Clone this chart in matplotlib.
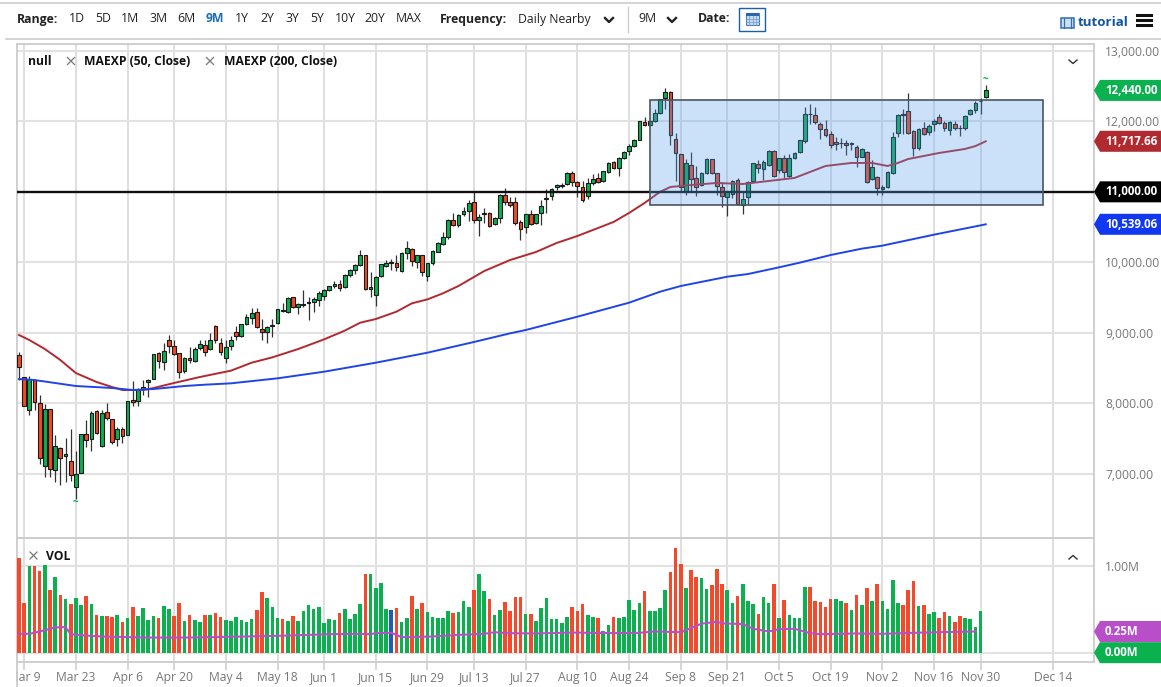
import matplotlib
matplotlib.use('Agg')
import matplotlib.pyplot as plt
from matplotlib.patches import Rectangle, Polygon

plt.rcParams['font.family'] = ['Open Sans', 'DejaVu Sans']

W, H = 1161, 687

opens = [8683, 8375, 7902, 8328, 8006, 7112, 7911, 7045, 7358, 7244,
         7183, 6804, 7012, 7556, 7490, 7892, 7396, 7869, 7779, 7485,
         7632, 7542, 8044, 8025, 8196, 8304, 8342, 8707, 8584, 8896,
         8811, 8707, 8451, 8645, 8593, 8778, 8825, 8768, 9090, 8849,
         8636, 8811, 9010, 8953, 9118, 9204, 9289, 9052, 9015, 9100,
         9142, 9320, 9294, 9502, 9370, 9398, 9422, 9440, 9460, 9521,
         9601, 9663, 9687, 9649, 9824, 9895, 9966, 10098, 9625, 9530,
         9800, 9952, 9994, 9985, 9876, 10127, 10188, 10008, 10098, 9800,
         9990, 10150, 10264, 10354, 10605, 10534, 10685, 10733, 10851, 10605,
         10703, 10700, 10539, 10628, 10960, 10860, 10856, 10567, 10496, 10685,
         10562, 10704, 10917, 10941, 11064, 11088, 11107, 11267, 11144, 11073,
         10936, 11120, 11192, 11154, 11286, 11424, 11334, 11485, 11585, 11646,
         11741, 11996, 11954, 12006, 12115, 12332, 12413, 11750, 11532, 11012,
         11386, 11192, 11092, 11263, 11461, 11263, 11073, 10932, 10969, 11168,
         10813, 10922, 11154, 11395, 11319, 11381, 11575, 11310, 11476, 11225,
         11476, 11566, 11722, 12108, 12091, 11958, 11897, 11821, 11703, 11693,
         11688, 11688, 11641, 11500, 11561, 11187, 11215, 11040, 11073, 11272,
         11831, 12091, 12143, 11868, 11618, 11902, 11854, 11959, 12067, 11982,
         11878, 11963, 11907, 11906, 12100, 12162, 12285, 12342]
highs = [8730, 8375, 8385, 8338, 8110, 7987, 7911, 7542, 7381, 7509,
         7632, 7320, 7556, 7760, 7892, 7902, 7902, 8001, 7779, 7656,
         7656, 8035, 8309, 8210, 8328, 8340, 8702, 8730, 8849, 8967,
         8896, 8707, 8660, 8792, 8792, 8896, 8896, 9000, 9110, 8930,
         8896, 8950, 9090, 9130, 9260, 9345, 9350, 9200, 9100, 9190,
         9332, 9420, 9505, 9510, 9420, 9600, 9510, 9510, 9590, 9620,
         9670, 9730, 9750, 9830, 9910, 9970, 10180, 10110, 9860, 9800,
         9975, 10030, 10040, 10110, 10140, 10300, 10200, 10110, 10110, 9990,
         10170, 10290, 10430, 10615, 10700, 10680, 10790, 10880, 11010, 10680,
         10770, 10720, 10640, 10970, 11060, 10930, 10930, 10600, 10690, 10740,
         10690, 10890, 11040, 11060, 11110, 11120, 11280, 11290, 11160, 11160,
         11190, 11260, 11270, 11300, 11420, 11440, 11490, 11580, 11680, 11750,
         12010, 12060, 12020, 12170, 12320, 12470, 12425, 11840, 11540, 11470,
         11570, 11360, 11280, 11480, 11470, 11270, 11140, 11000, 11170, 11200,
         11000, 11150, 11410, 11450, 11450, 11590, 11590, 11480, 11530, 11540,
         11560, 11740, 12210, 12250, 12200, 11990, 12020, 11860, 11780, 11760,
         11740, 11710, 11660, 11620, 11580, 11450, 11230, 11090, 11290, 11850,
         12110, 12170, 12410, 11880, 11905, 11990, 11960, 12040, 12100, 12010,
         12010, 12010, 11950, 12090, 12170, 12290, 12330, 12510]
lows = [8328, 8375, 7831, 7902, 7135, 6955, 6946, 6884, 6837, 6884,
        6899, 6638, 7012, 7381, 7325, 7561, 7372, 7760, 7419, 7396,
        7438, 7542, 7959, 7959, 8115, 8091, 8338, 8494, 8470, 8707,
        8680, 8352, 8423, 8565, 8588, 8754, 8673, 8750, 8860, 8683,
        8570, 8760, 8900, 8935, 9110, 9125, 9060, 8890, 8860, 8940,
        9130, 9300, 9285, 9355, 9260, 9360, 9180, 9300, 9380, 9470,
        9590, 9630, 9590, 9630, 9790, 9830, 9950, 9600, 9500, 9380,
        9790, 9930, 9890, 9880, 9860, 10050, 9940, 9920, 9810, 9740,
        9960, 10140, 10250, 10330, 10510, 10500, 10660, 10590, 10560, 10380,
        10560, 10500, 10530, 10560, 10820, 10790, 10530, 10310, 10420, 10530,
        10550, 10530, 10700, 10880, 11030, 11060, 11090, 11080, 10930, 10860,
        10900, 11100, 11120, 11140, 11270, 11320, 11230, 11470, 11530, 11630,
        11730, 11940, 11940, 11990, 12100, 12180, 11670, 11160, 11010, 10950,
        11012, 10945, 11080, 11250, 11250, 10950, 10790, 10660, 10910, 10820,
        10680, 10820, 11140, 11270, 11170, 11370, 11215, 11270, 11200, 11215,
        11470, 11550, 11700, 11960, 11970, 11750, 11780, 11620, 11600, 11620,
        11520, 11590, 11350, 11490, 11130, 11170, 10960, 10960, 11060, 11260,
        11780, 11820, 11825, 11510, 11600, 11800, 11810, 11860, 11960, 11860,
        11810, 11880, 11790, 11880, 12090, 12120, 12100, 12330]
closes = [8508, 7964, 8338, 8011, 7225, 7916, 7064, 7396, 7216, 7277,
          6979, 6993, 7556, 7476, 7855, 7570, 7864, 7793, 7443, 7637,
          7528, 8035, 8020, 8191, 8233, 8333, 8702, 8602, 8740, 8816,
          8697, 8437, 8645, 8612, 8773, 8834, 8730, 8896, 8900, 8730,
          8801, 8896, 8960, 9123, 9228, 9284, 9076, 9005, 9085, 9112,
          9332, 9310, 9497, 9360, 9412, 9412, 9440, 9474, 9568, 9601,
          9658, 9696, 9635, 9814, 9895, 9956, 10098, 9616, 9653, 9795,
          9970, 9990, 10008, 9928, 10132, 10202, 10018, 10098, 9866, 9985,
          10160, 10278, 10363, 10605, 10534, 10671, 10733, 10846, 10600, 10647,
          10684, 10515, 10633, 10960, 10856, 10808, 10553, 10468, 10680, 10548,
          10680, 10799, 10898, 11045, 11092, 11098, 11267, 11135, 11078, 10884,
          11130, 11182, 11140, 11291, 11414, 11338, 11480, 11570, 11646, 11731,
          12001, 11954, 12006, 12124, 12313, 12413, 11807, 11556, 11064, 11405,
          11187, 11073, 11272, 11466, 11263, 11083, 10941, 10993, 11159, 10827,
          10898, 11144, 11405, 11343, 11419, 11585, 11230, 11476, 11277, 11485,
          11547, 11731, 12105, 12105, 11987, 11887, 11807, 11660, 11674, 11688,
          11660, 11680, 11500, 11604, 11144, 11348, 11050, 11069, 11277, 11774,
          12086, 12100, 11831, 11618, 11897, 11826, 11940, 12011, 11982, 11902,
          11992, 11907, 11900, 12081, 12162, 12266, 12295, 12440]

ema50_idx = [0, 2, 5, 8, 11, 15, 18, 20, 24, 26, 30, 35, 41, 45, 49, 54, 59, 63, 66, 69,
             73, 76, 79, 82, 85, 87, 90, 95, 100, 104, 108, 111, 115, 118, 121, 124, 126, 130,
             135, 140, 145, 150, 153, 156, 161, 165, 168, 170, 172, 178, 183, 185, 187]
ema50 = [8967, 8896, 8768, 8612, 8427, 8300, 8229, 8186, 8186, 8214, 8286, 8371, 8461, 8574,
         8650, 8768, 8905, 9029, 9142, 9194, 9298, 9417, 9473, 9559, 9663, 9748, 9876, 10032,
         10146, 10274, 10373, 10458, 10572, 10700, 10842, 11000, 11069, 11097, 11126, 11111,
         11154, 11197, 11282, 11367, 11410, 11410, 11367, 11410, 11466, 11552, 11609, 11650,
         11717.66]
ema200_idx = [0, 3, 11, 18, 22, 26, 32, 36, 41, 50, 59, 69, 79, 88, 95, 98, 108, 118, 124, 128,
              137, 141, 147, 151, 157, 163, 167, 177, 186, 187]
ema200 = [8342, 8328, 8243, 8215, 8186, 8200, 8243, 8262, 8281, 8352, 8446, 8574, 8716, 8868,
          8991, 9038, 9227, 9426, 9582, 9663, 9795, 9833, 9928, 9994, 10103, 10193, 10236,
          10392, 10524, 10539.06]

volume = [1.10, .57, 1.00, 1.00, .94, 1.02, .73, .88, .665, .626,
          .56, .634, .556, .658, .568, .44, .42, .424, .41, .436,
          .35, .397, .533, .428, .52, .38, .428, .405, .537, .51,
          .428, .58, .37, .436, .38, .354, .44, .432, .46, .416,
          .377, .366, .41, .38, .358, .393, .498, .70, .634, .533,
          .397, .39, .37, .428, .362, .482, .556, .51, .53, .342,
          .39, .377, .46, .51, .393, .444, .564, .907, .914, .743,
          .81, .50, .498, .518, .354, .40, .658, .51, .572, .475,
          .416, .397, .40, .482, .463, .475, .603, .525, .73, .914,
          .716, .626, .44, .494, .587, .482, .642, .65, .444, .444,
          .366, .52, .63, .39, .393, .346, .416, .533, .482, .56,
          .432, .41, .397, .25, .323, .41, .40, .41, .615, .494,
          .58, .708, .486, .479, .518, .728, .934, 1.21, 1.03, .743,
          .96, .87, .868, .74, .778, .973, .798, .728, .572, .654,
          .79, .60, .568, .444, .646, .58, .80, .397, .61, .44,
          .40, .405, .755, .755, .595, .59, .525, .623, .623, .60,
          .58, .498, .673, .549, .75, .603, .80, .603, .51, .84,
          .58, .553, .73, .833, .545, .556, .444, .47, .40, .475,
          .42, .358, .428, .40, .385, .296, .486, 0.0]
vol_red = [0, 1, 3, 4, 6, 8, 10, 13, 15, 17, 18, 20, 22, 27, 30, 31, 33, 36, 38, 39, 46, 47,
           51, 53, 62, 67, 73, 76, 78, 84, 88, 91, 94, 95, 96, 97, 99, 107, 108, 109, 112, 115,
           121, 126, 127, 128, 130, 131, 134, 135, 136, 139, 143, 146, 148, 153, 154, 155, 156,
           157, 160, 162, 164, 166, 171, 172, 173, 175, 178, 179, 181, 182]
vol_blue = [72]
vol_ma_idx = [0, 2, 4, 6, 7, 9, 10, 13, 16, 25, 33, 40, 50, 56, 60, 66, 68, 69, 72, 73, 74,
              80, 85, 90, 92, 94, 100, 107, 115, 120, 123, 128, 130, 132, 135, 136, 140, 142,
              145, 147, 150, 153, 155, 162, 167, 173, 178, 185]
vol_ma = [.218, .218, .245, .276, .292, .296, .214, .198, .187, .175, .175, .183, .195, .206,
          .214, .218, .214, .226, .23, .206, .179, .187, .206, .218, .237, .226, .222, .233,
          .226, .23, .245, .237, .284, .335, .358, .339, .331, .276, .245, .272, .276, .226,
          .214, .222, .218, .23, .237, .245]

tick_idx = [1, 11, 21, 30, 40, 50, 59, 69, 79, 88, 98, 108, 118, 128, 137, 147, 157, 167, 177, 186, 200]
tick_labels = ['Mar 9', 'Mar 23', 'Apr 6', 'Apr 20', 'May 4', 'May 18', 'Jun 1', 'Jun 15', 'Jun 29',
               'Jul 13', 'Jul 27', 'Aug 10', 'Aug 24', 'Sep 8', 'Sep 21', 'Oct 5', 'Oct 19', 'Nov 2',
               'Nov 16', 'Nov 30', 'Dec 14']
price_ticks = [7000, 8000, 9000, 10000, 11000, 12000, 13000]
# 11,000 is shown by the black tag
price_tick_labels = ['7,000.00', '8,000.00', '9,000.00', '10,000.00', '', '12,000.00', '13,000.00']

box_left, box_right = 122, 198
box_top, box_bottom = 12310, 10820
level = 11000

GREEN = '#09b052'
RED = '#f24a24'
GRID = '#e2e2e2'
VGRID = '#d6d6d6'
TICK = '#777777'


def pane(fig, x0, y0, x1, y1):
    return fig.add_axes([x0 / W, 1 - y1 / H, (x1 - x0) / W, (y1 - y0) / H])


fig = plt.figure(figsize=(W / 100, H / 100), dpi=100)
ax = pane(fig, 16.5, 44, 1094, 538)
vax = pane(fig, 16.5, 538, 1094, 662)

x_left = (16.5 - 19) / 5.17
x_right = (1094 - 19) / 5.17
ax.set_xlim(x_left, x_right)
ax.set_ylim(6085, 13099)
vax.set_xlim(x_left, x_right)
vax.set_ylim(-0.108, 1.327)

for a in (ax, vax):
    a.set_axisbelow(True)
    a.yaxis.tick_right()
    a.set_xticks(tick_idx)
    a.grid(axis='x', color=VGRID, lw=1.1)
    a.grid(axis='y', color=GRID, lw=1.5)
    for s in a.spines.values():
        s.set_color('#cccccc')
        s.set_linewidth(1.3)

ax.set_yticks(price_ticks)
ax.set_yticklabels(price_tick_labels)
ax.tick_params(axis='y', length=0, pad=8, labelsize=8.7, labelcolor=TICK)
ax.tick_params(axis='x', length=0, labelbottom=False)

vax.set_yticks([0, 1])
vax.set_yticklabels(['', '1.00M'])
vax.tick_params(axis='y', length=0, pad=8, labelsize=8.7, labelcolor=TICK)
vax.set_xticklabels(tick_labels)
vax.tick_params(axis='x', length=6, width=1.1, color='#cccccc', pad=0.5, labelsize=8.7, labelcolor=TICK)

# candles
xs = list(range(len(opens)))
ax.vlines(xs, lows, highs, color='#333333', lw=0.9, zorder=3)
bottoms = [min(o, c) for o, c in zip(opens, closes)]
heights = [abs(c - o) for o, c in zip(opens, closes)]
cols = [GREEN if c >= o else RED for o, c in zip(opens, closes)]
ax.bar(xs, heights, 0.72, bottom=bottoms, color=cols, edgecolor='#1a1a1a', lw=0.8, zorder=4)

ax.plot(ema50_idx, ema50, color='#b02a30', lw=1.4, zorder=5)
ax.plot(ema200_idx, ema200, color='#1f45e6', lw=1.4, zorder=5)

ax.axhline(level, color='#111111', lw=1.7, zorder=6)
ax.add_patch(Rectangle((box_left, box_bottom), box_right - box_left, box_top - box_bottom,
                       facecolor=(85 / 255, 158 / 255, 238 / 255, 0.3), edgecolor='#4a5560', lw=1.2, zorder=7))

low_i = lows.index(min(lows))
high_i = highs.index(max(highs))
ax.annotate('~', (low_i, lows[low_i]), xytext=(0, -2.5), textcoords='offset points', ha='center', va='center',
            fontsize=7, fontweight='bold', color=GREEN, zorder=8)
ax.annotate('~', (high_i, highs[high_i]), xytext=(0, 4.2), textcoords='offset points', ha='center', va='center',
            fontsize=7, fontweight='bold', color=GREEN, zorder=8)

# volume
bar_cols = []
for i in range(len(volume)):
    if i in vol_blue:
        bar_cols.append('#1f5fb0')
    elif i in vol_red:
        bar_cols.append('#f4492a')
    else:
        bar_cols.append('#0bb04f')
vax.bar(xs, volume, 0.7, color=bar_cols, zorder=3)
vax.plot(vol_ma_idx, vol_ma, color='#b84fc9', lw=1.5, zorder=4)

# page chrome drawn in pixel coordinates on top
ov = fig.add_axes([0, 0, 1, 1], zorder=10)
ov.set_xlim(0, W)
ov.set_ylim(H, 0)
ov.axis('off')
ov.patch.set_alpha(0)

ov.add_patch(Rectangle((0, 664), 16, 23, facecolor='white', edgecolor='none'))
ov.plot([16.5, 16.5], [662, 687], color='#cccccc', lw=1.3)
ov.plot([0, W], [2.5, 2.5], color='#cccccc', lw=1.2)
ov.plot([6, W], [38.5, 38.5], color='#cccccc', lw=1.2)


def label(x, y, s, weight='normal', color='#222222', ha='left', size=8.8):
    ov.text(x, y, s, fontsize=size, fontweight=weight, color=color, ha=ha, va='center')


label(17, 19, 'Range:', 'bold')
ranges = ['1D', '5D', '1M', '3M', '6M', '9M', '1Y', '2Y', '3Y', '5Y', '10Y', '20Y', 'MAX']
range_x = [77, 103, 130, 158, 186, 215, 242, 267, 292, 317, 345, 375, 409]
for rx, r in zip(range_x, ranges):
    if r == '9M':
        label(rx, 19, r, 'bold', '#1a6fb5', 'center')
    else:
        label(rx, 19, r, ha='center')
label(440, 19, 'Frequency:', 'bold')
label(518, 19, 'Daily Nearby')
label(638, 19, '9M')
label(698, 19, 'Date:', 'bold')
for cx in (609, 672):
    ov.plot([cx - 4, cx, cx + 4], [18, 22, 18], color='#222222', lw=1.7)
ov.plot([627.5, 627.5], [7, 32], color='#cccccc', lw=1)

ov.add_patch(Rectangle((739, 7.5), 26, 23, facecolor='white', edgecolor='#1a5fa8', lw=1, joinstyle='round'))
ov.add_patch(Rectangle((746, 13), 13, 12, facecolor='#c5d9ee', edgecolor='#4a7fb8', lw=0.8))
ov.add_patch(Rectangle((746, 13), 13, 3, facecolor='#2a66a8', edgecolor='none'))
for gx in (749, 752.5, 756):
    ov.plot([gx, gx], [16, 25], color='#6f9bc9', lw=0.5)
for gy in (19, 22):
    ov.plot([746, 759], [gy, gy], color='#6f9bc9', lw=0.5)

ov.add_patch(Rectangle((1061, 18), 13, 10, facecolor='#cfe0f2', edgecolor='#2f6fb0', lw=1.1))
ov.plot([1064, 1064], [18, 28], color='#2f6fb0', lw=0.9)
ov.plot([1071, 1071], [18, 28], color='#2f6fb0', lw=0.9)
label(1078, 23, 'tutorial', 'bold', '#10569c', size=9.6)
for hy in (14.5, 19.5, 24.5):
    ov.plot([1137, 1151], [hy, hy], color='#111111', lw=2.2)

label(28, 61.5, 'null', 'bold', '#111111', size=8.7)
label(84, 61.5, 'MAEXP (50, Close)', 'bold', '#111111', size=8.7)
label(224, 61.5, 'MAEXP (200, Close)', 'bold', '#111111', size=8.7)
label(46, 556, 'VOL', 'bold', '#111111', size=8.7)
for cx, cy in ((71, 61), (210, 61), (33.5, 555.5)):
    ov.plot([cx - 3.5, cx + 3.5], [cy - 3.5, cy + 3.5], color='#777777', lw=0.9)
    ov.plot([cx - 3.5, cx + 3.5], [cy + 3.5, cy - 3.5], color='#777777', lw=0.9)
ov.plot([1069, 1073, 1077], [60, 63.5, 60], color='#333333', lw=1)
ov.plot([1069, 1073, 1077], [559, 555.5, 559], color='#333333', lw=1)


def tag(a, value, text, color):
    y = H - a.transData.transform((0, value))[1]
    ov.add_patch(Polygon([(1094, y), (1100, y - 10.5), (1161, y - 10.5), (1161, y + 10.5), (1100, y + 10.5)],
                         closed=True, facecolor=color, edgecolor='none'))
    ov.text(1105, y, text, fontsize=8.3, fontweight='bold', color='white', ha='left', va='center')


tag(ax, closes[-1], '12,440.00', '#0bb04f')
tag(ax, ema50[-1], '11,717.66', '#b02a30')
tag(ax, level, '11,000.00', '#000000')
tag(ax, ema200[-1], '10,539.06', '#1038f0')
tag(vax, vol_ma[-1], '0.25M', '#b84fc9')
tag(vax, volume[-1], '0.00M', '#0bb04f')

fig.savefig('out.png', dpi=100)
